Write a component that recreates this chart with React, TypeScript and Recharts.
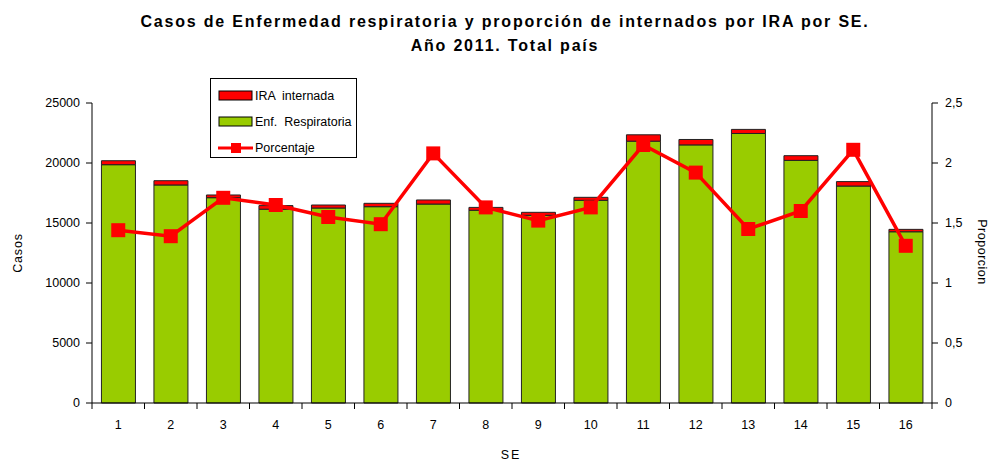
import React from 'react';
import { ComposedChart, Bar, Line, XAxis, YAxis, Legend } from 'recharts';

const categories = ['1', '2', '3', '4', '5', '6', '7', '8', '9', '10', '11', '12', '13', '14', '15', '16'];
const enfRespiratoria = [19860, 18170, 17110, 16150, 16250, 16360, 16580, 16060, 15640, 16890, 21820, 21510, 22460, 20220, 18080, 14270];
const iraInternada = [330, 355, 225, 300, 250, 280, 340, 240, 250, 250, 530, 450, 340, 390, 370, 200];
const porcentaje = [1.44, 1.39, 1.71, 1.65, 1.55, 1.49, 2.08, 1.63, 1.52, 1.63, 2.15, 1.92, 1.45, 1.6, 2.11, 1.31];
const leftTicks = [0, 5000, 10000, 15000, 20000, 25000];
const rightTicks = [0, 0.5, 1, 1.5, 2, 2.5];

const data = categories.map((c, i) => ({
  se: c,
  enf: enfRespiratoria[i],
  ira: iraInternada[i],
  pct: porcentaje[i],
}));

const GREEN = '#99CC00';
const RED = '#FF0000';
const FONT = '"Liberation Sans", Arial, sans-serif';
const W = 990;
const H = 462;
const M_TOP = 103;
const LEFT_W = 92;
const RIGHT_W = 58;
const X_H = 59;
const BAND = (W - LEFT_W - RIGHT_W) / categories.length;

const XTick = (props: any) => {
  const { x, y, payload, index } = props;
  return (
    <g>
      <line x1={x - BAND / 2} y1={y} x2={x - BAND / 2} y2={y + 6} stroke="#000" />
      {index === categories.length - 1 && (
        <line x1={x + BAND / 2} y1={y} x2={x + BAND / 2} y2={y + 6} stroke="#000" />
      )}
      <text x={x} y={y + 26} textAnchor="middle" fontSize={12.5} fontFamily={FONT} fill="#000">
        {payload.value}
      </text>
    </g>
  );
};

const SquareDot = (props: any) => {
  const { cx, cy } = props;
  if (cx == null || cy == null) return null;
  return <rect x={cx - 7} y={cy - 7} width={14} height={14} fill={RED} />;
};

const legendItems = [
  { key: 'ira', label: 'IRA  internada', type: 'rect', color: RED },
  { key: 'enf', label: 'Enf.  Respiratoria', type: 'rect', color: GREEN },
  { key: 'pct', label: 'Porcentaje', type: 'line', color: RED },
];

const LegendContent = () => (
  <div
    style={{
      width: 147,
      height: 80,
      border: '1px solid #000',
      background: '#fff',
      fontFamily: FONT,
      fontSize: 12.5,
      color: '#000',
      boxSizing: 'border-box',
      paddingTop: 4,
    }}
  >
    {legendItems.map((it) => (
      <div key={it.key} style={{ display: 'flex', alignItems: 'center', height: 26 }}>
        <svg width={48} height={14} style={{ marginLeft: 7 }}>
          {it.type === 'rect' ? (
            <rect x={1} y={2} width={33} height={9} fill={it.color} stroke="#000" strokeWidth={1} />
          ) : (
            <g>
              <line x1={0} y1={7} x2={35} y2={7} stroke={it.color} strokeWidth={3} />
              <rect x={13} y={2} width={10} height={10} fill={it.color} />
            </g>
          )}
        </svg>
        <span style={{ marginLeft: -11, whiteSpace: 'pre' }}>{it.label}</span>
      </div>
    ))}
  </div>
);

export default function App() {
  return (
    <div style={{ position: 'absolute', left: 0, top: 0, width: W, height: H, background: '#fff' }}>
      <div
        style={{
          position: 'absolute',
          left: 0,
          top: 10,
          width: 1010,
          textAlign: 'center',
          fontFamily: FONT,
          fontWeight: 'bold',
          fontSize: 16,
          letterSpacing: 1.8,
          lineHeight: '24px',
          color: '#000',
        }}
      >
        <div>Casos de Enfermedad respiratoria y proporción de internados por IRA por SE.</div>
        <div>Año 2011. Total país</div>
      </div>
      <div
        style={{
          position: 'absolute',
          left: 18,
          top: 253,
          transform: 'translate(-50%, -50%) rotate(-90deg)',
          fontFamily: FONT,
          fontSize: 12.5,
          letterSpacing: 0.8,
          whiteSpace: 'nowrap',
        }}
      >
        Casos
      </div>
      <div
        style={{
          position: 'absolute',
          left: 982,
          top: 252,
          transform: 'translate(-50%, -50%) rotate(90deg)',
          fontFamily: FONT,
          fontSize: 12.5,
          letterSpacing: 0.5,
          whiteSpace: 'nowrap',
        }}
      >
        Proporcion
      </div>
      <div
        style={{
          position: 'absolute',
          left: 511,
          top: 455,
          transform: 'translate(-50%, -50%)',
          fontFamily: FONT,
          fontSize: 12.5,
          letterSpacing: 2,
          whiteSpace: 'nowrap',
        }}
      >
        SE
      </div>
      <ComposedChart
        width={W}
        height={H}
        data={data}
        margin={{ top: M_TOP, right: 0, bottom: 0, left: 0 }}
        barCategoryGap="18%"
        style={{ position: 'absolute', left: 0, top: 0 }}
      >
        <XAxis
          dataKey="se"
          height={X_H}
          tickLine={false}
          tickSize={0}
          tickMargin={0}
          axisLine={{ stroke: '#000' }}
          tick={<XTick />}
          interval={0}
        />
        <YAxis
          yAxisId="left"
          orientation="left"
          width={LEFT_W}
          domain={[0, 25000]}
          ticks={leftTicks}
          tickSize={6}
          tickMargin={6}
          axisLine={{ stroke: '#000' }}
          tickLine={{ stroke: '#000' }}
          tick={{ fontSize: 12.5, fill: '#000', fontFamily: FONT }}
        />
        <YAxis
          yAxisId="right"
          orientation="right"
          width={RIGHT_W}
          domain={[0, 2.5]}
          ticks={rightTicks}
          tickSize={6}
          tickMargin={7}
          axisLine={{ stroke: '#000' }}
          tickLine={{ stroke: '#000' }}
          tickFormatter={(v: number) => String(v).replace('.', ',')}
          tick={{ fontSize: 12.5, fill: '#000', fontFamily: FONT }}
        />
        <Legend
          layout="vertical"
          align="center"
          verticalAlign="middle"
          content={<LegendContent />}
          wrapperStyle={{ position: 'absolute', left: 210, top: 78, width: 147, height: 80 }}
        />
        <Bar yAxisId="left" dataKey="enf" stackId="a" fill={GREEN} stroke="#222" strokeWidth={1} isAnimationActive={false} />
        <Bar yAxisId="left" dataKey="ira" stackId="a" fill={RED} stroke="#222" strokeWidth={1} isAnimationActive={false} />
        <Line
          yAxisId="right"
          dataKey="pct"
          type="linear"
          stroke={RED}
          strokeWidth={3.5}
          dot={<SquareDot />}
          activeDot={false}
          isAnimationActive={false}
        />
      </ComposedChart>
    </div>
  );
}
